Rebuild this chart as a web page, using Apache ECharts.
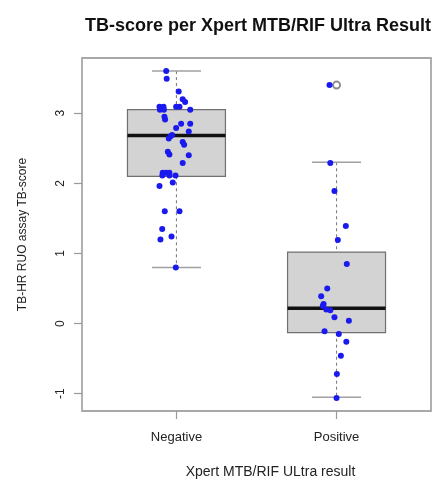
<!DOCTYPE html>
<html>
<head>
<meta charset="utf-8">
<script src="https://cdn.jsdelivr.net/npm/echarts@6/dist/echarts.min.js"></script>
<style>html,body{margin:0;padding:0;background:#fff;}#c{width:437px;height:484px;}</style>
</head>
<body>
<div id="c"></div>
<script>
// ---- data ----
var categories = ['Negative', 'Positive'];
// box statistics per category: [lower whisker, Q1, median, Q3, upper whisker]
var boxLow    = [0.80, -1.05];
var boxQ1     = [2.10, -0.13];
var boxMedian = [2.68, 0.22];
var boxQ3     = [3.05, 1.02];
var boxHigh   = [3.60, 2.30];
var outliers  = [[2, 3.40]];
// individual observations (jitter offset from category centre, value)
var negJitter = [-0.064,-0.061,0.014,0.039,0.054,-0.106,-0.081,-0.103,-0.078,-0.002,0.019,0.086,-0.075,-0.071,0.029,0.086,-0.002,0.077,-0.027,-0.037,-0.048,0.039,0.048,-0.054,-0.044,0.077,0.039,-0.086,-0.064,-0.044,-0.088,-0.044,-0.006,-0.106,-0.023,-0.073,0.019,-0.089,-0.100,-0.031,-0.004];
var negValues = [3.60,3.49,3.31,3.20,3.16,3.09,3.09,3.05,3.05,3.09,3.09,3.05,2.95,2.91,2.85,2.85,2.79,2.74,2.69,2.67,2.64,2.59,2.55,2.45,2.41,2.40,2.29,2.15,2.15,2.15,2.11,2.11,2.11,1.96,2.01,1.60,1.60,1.35,1.20,1.24,0.80];
var posJitter = [-0.044,-0.039,-0.013,0.058,0.008,0.064,-0.058,-0.096,-0.081,-0.086,-0.064,-0.039,-0.013,0.077,-0.075,0.014,0.061,0.027,0.002,0.000];
var posValues = [3.40,2.29,1.89,1.39,1.19,0.85,0.50,0.39,0.28,0.25,0.20,0.19,0.09,0.04,-0.11,-0.15,-0.26,-0.46,-0.72,-1.06];
var yTicks = [-1, 0, 1, 2, 3];

// ---- build ----
var boxData = categories.map(function (c, i) {
  return [i + 1, boxLow[i], boxQ1[i], boxMedian[i], boxQ3[i], boxHigh[i]];
});
var pts = [];
negValues.forEach(function (v, i) { pts.push([1 + negJitter[i], v]); });
posValues.forEach(function (v, i) { pts.push([2 + posJitter[i], v]); });

var allVals = negValues.concat(posValues);
var dmin = Math.min.apply(null, allVals), dmax = Math.max.apply(null, allVals);
var ext = (dmax - dmin) * 0.04;

var HALF_BOX = 0.306, HALF_CAP = 0.153;
var font = 'Liberation Sans, Arial, sans-serif';

var chart = echarts.init(document.getElementById('c'), null, {renderer: 'canvas'});
chart.setOption({
  animation: false,
  backgroundColor: '#ffffff',
  title: {
    text: 'TB-score per Xpert MTB/RIF Ultra Result',
    left: 253, top: 12, textAlign: 'center',
    textStyle: {fontFamily: font, fontSize: 18, fontWeight: 'bold', color: '#111'}
  },
  grid: {left: 82, right: 6, top: 58, bottom: 70, show: true, borderColor: '#a8a8a8', borderWidth: 1.8, backgroundColor: 'transparent'},
  xAxis: {
    type: 'value', min: 0.41, max: 2.59,
    axisLine: {show: false, onZero: false}, splitLine: {show: false},
    axisTick: {show: true, customValues: [1, 2], length: 8, lineStyle: {color: '#9a9a9a', width: 1.2}},
    axisLabel: {customValues: [1, 2], margin: 20, fontFamily: font, fontSize: 13, color: '#222',
      formatter: function (v) { return categories[Math.round(v) - 1] || ''; }},
    name: 'Xpert MTB/RIF ULtra result', nameLocation: 'middle', nameGap: 54,
    nameTextStyle: {fontFamily: font, fontSize: 14, color: '#222', padding: [0, 0, 0, 28]}
  },
  yAxis: {
    type: 'value', min: dmin - ext, max: dmax + ext,
    axisLine: {show: false, onZero: false}, splitLine: {show: false},
    axisTick: {show: true, customValues: yTicks, length: 8, lineStyle: {color: '#9a9a9a', width: 1.2}},
    axisLabel: {customValues: yTicks, rotate: 90, margin: 15, fontFamily: font, fontSize: 12, color: '#222'},
    name: 'TB-HR RUO assay TB-score', nameLocation: 'middle', nameGap: 53, nameRotate: 90,
    nameTextStyle: {fontFamily: font, fontSize: 12, color: '#222'}
  },
  series: [
    {
      type: 'custom', z: 1,
      data: boxData,
      renderItem: function (params, api) {
        var x = api.value(0), lo = api.value(1), q1 = api.value(2), md = api.value(3), q3 = api.value(4), hi = api.value(5);
        var tl = api.coord([x - HALF_BOX, q3]);
        var br = api.coord([x + HALF_BOX, q1]);
        var mL = api.coord([x - HALF_BOX, md]);
        var mR = api.coord([x + HALF_BOX, md]);
        var cHi = api.coord([x, hi]), cQ3 = api.coord([x, q3]);
        var cLo = api.coord([x, lo]), cQ1 = api.coord([x, q1]);
        var capHiL = api.coord([x - HALF_CAP, hi]), capHiR = api.coord([x + HALF_CAP, hi]);
        var capLoL = api.coord([x - HALF_CAP, lo]), capLoR = api.coord([x + HALF_CAP, lo]);
        var dash = {stroke: '#808080', lineWidth: 1.1, lineDash: [3, 3]};
        var solid = {stroke: '#a0a0a0', lineWidth: 1.5};
        return {type: 'group', children: [
          {type: 'line', shape: {x1: cHi[0], y1: cHi[1], x2: cQ3[0], y2: cQ3[1]}, style: dash},
          {type: 'line', shape: {x1: cQ1[0], y1: cQ1[1], x2: cLo[0], y2: cLo[1]}, style: dash},
          {type: 'line', shape: {x1: capHiL[0], y1: capHiL[1], x2: capHiR[0], y2: capHiR[1]}, style: solid},
          {type: 'line', shape: {x1: capLoL[0], y1: capLoL[1], x2: capLoR[0], y2: capLoR[1]}, style: solid},
          {type: 'rect', shape: {x: tl[0], y: tl[1], width: br[0] - tl[0], height: br[1] - tl[1]},
            style: {fill: '#d3d3d3', stroke: '#707070', lineWidth: 1.2}},
          {type: 'line', shape: {x1: mL[0], y1: mL[1], x2: mR[0], y2: mR[1]}, style: {stroke: '#111', lineWidth: 3.5}}
        ]};
      }
    },
    {
      type: 'scatter', z: 2, data: outliers, symbol: 'emptyCircle', symbolSize: 7,
      itemStyle: {color: '#707070', borderColor: '#707070', borderWidth: 1.3}
    },
    {
      type: 'scatter', z: 3, data: pts, symbol: 'circle', symbolSize: 6,
      itemStyle: {color: '#1a1aee', opacity: 1}
    }
  ]
});
</script>
</body>
</html>
